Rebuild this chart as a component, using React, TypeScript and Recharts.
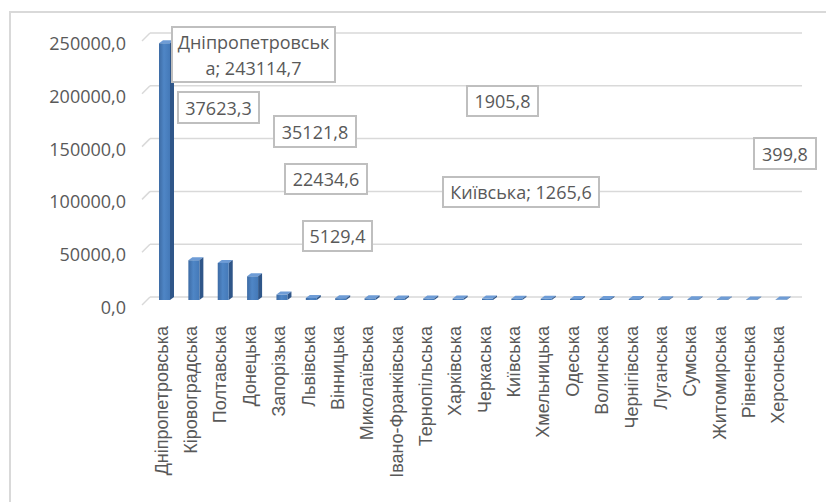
import { BarChart, Bar, XAxis, YAxis, CartesianGrid } from 'recharts'

// Обсяги по областях (тис.)
const categories = [
    'Дніпропетровська', 'Кіровоградська', 'Полтавська', 'Донецька', 'Запорізька',
    'Львівська', 'Вінницька', 'Миколаївська', 'Івано-Франківська', 'Тернопільська',
    'Харківська', 'Черкаська', 'Київська', 'Хмельницька', 'Одеська', 'Волинська',
    'Чернігівська', 'Луганська', 'Сумська', 'Житомирська', 'Рівненська', 'Херсонська',
]
const values = [
    243114.7, 37623.3, 35121.8, 22434.6, 5129.4,
    1905.8, 1700, 1600, 1500, 1420, 1360, 1310, 1265.6,
    1150, 1050, 950, 850, 760, 680, 580, 490, 399.8,
]
const yTicks = [0, 50000, 100000, 150000, 200000, 250000]

// which bars carry a data label, and whether the category name is shown
const labelIndex = [0, 1, 2, 3, 4, 5, 12, 21]
const labelWithName = [true, false, false, false, false, false, true, false]

// label box layout (left, top, width, height)
const labelBoxes = [
    [171, 26, 165, 57],
    [177, 91, 83, 33],
    [273, 115, 84, 33],
    [284, 163, 84, 32],
    [302, 220, 71, 32],
    [466, 85, 73, 32],
    [442, 176, 158, 32],
    [753, 137, 64, 33],
]

const chartData = categories.map((name, i) => ({ name, value: values[i] }))

const fmt = (v: number) => v.toFixed(1).replace('.', ',')

const TEXT = '#595959'
const GRID = '#d9d9d9'

function Bar3D(props: any) {
    const { x, y, width, height } = props
    if (x == null || y == null) return null
    const h = Math.max(height, 0)
    const d = 4
    const dy = 3
    return (
        <g>
            <polygon
                points={`${x},${y} ${x + d},${y - dy} ${x + width + d},${y - dy} ${x + width},${y}`}
                fill="#6e9cd6"
            />
            <polygon
                points={`${x + width},${y} ${x + width + d},${y - dy} ${x + width + d},${y + h - dy} ${x + width},${y + h}`}
                fill="#2f5689"
            />
            <rect x={x} y={y} width={width} height={h} fill="url(#barFront)" />
        </g>
    )
}

function YTick(props: any) {
    const { y, payload } = props
    return (
        <text x={126} y={y + 7} textAnchor="end" dominantBaseline="central"
            fill={TEXT} fontSize={18} fontFamily="'Open Sans', sans-serif">
            {fmt(payload.value)}
        </text>
    )
}

function XTick(props: any) {
    const { x, y, payload } = props
    const tx = x - 3
    const ty = y + 18
    return (
        <text x={tx} y={ty} transform={`rotate(-90, ${tx}, ${ty})`} textAnchor="end"
            dominantBaseline="central" fill={TEXT} fontSize={18}
            fontFamily="'Liberation Sans', Arial, sans-serif">
            {payload.value}
        </text>
    )
}

function GridLine(props: any) {
    const { x1, y1, x2, y2, index } = props
    return (
        <g key={`g-${index}`}>
            <line x1={x1} y1={y1 - 3} x2={x2 + 6} y2={y2 - 3} stroke={GRID} strokeWidth={1.5} />
            <line x1={x1 - 8} y1={y1 + 5} x2={x1} y2={y1 - 3} stroke={GRID} strokeWidth={1.5} />
        </g>
    )
}

export default function App() {
    return (
        <div style={{ position: 'relative', width: 826, height: 502, overflow: 'hidden', background: '#fff' }}>
            <style>{`body{margin:0}`}</style>
            <div style={{
                position: 'absolute', left: 9, top: 11, width: 900, height: 600,
                borderLeft: `2px solid ${GRID}`, borderTop: `2px solid ${GRID}`,
            }} />
            <BarChart width={826} height={502} data={chartData}
                margin={{ top: 36, right: 30, left: 0, bottom: 0 }} barSize={11}>
                <defs>
                    <linearGradient id="barFront" x1="0" y1="0" x2="1" y2="0">
                        <stop offset="0%" stopColor="#3d6ba4" />
                        <stop offset="45%" stopColor="#4f86c6" />
                        <stop offset="100%" stopColor="#4479b8" />
                    </linearGradient>
                </defs>
                <CartesianGrid vertical={false} horizontal={(p: any) => <GridLine {...p} />} />
                <XAxis dataKey="name" interval={0} height={202} axisLine={false} tickLine={false}
                    tick={<XTick />} />
                <YAxis domain={[0, 250000]} ticks={yTicks} width={150} axisLine={false}
                    tickLine={false} tick={<YTick />} />
                <Bar dataKey="value" shape={<Bar3D />} isAnimationActive={false} />
            </BarChart>
            {labelIndex.map((idx, i) => {
                const [left, top, w, h] = labelBoxes[i]
                const text = labelWithName[i] ? `${categories[idx]}; ${fmt(values[idx])}` : fmt(values[idx])
                return (
                    <div key={i} style={{
                        position: 'absolute', left, top, width: w, height: h, boxSizing: 'border-box',
                        border: '2px solid #bfbfbf', background: '#fff', color: TEXT,
                        fontFamily: "'Open Sans', sans-serif", fontSize: 18, lineHeight: '26px',
                        display: 'flex', alignItems: 'center', justifyContent: 'center',
                        textAlign: 'center', wordBreak: 'break-all', padding: '0 4px',
                    }}>
                        {text}
                    </div>
                )
            })}
        </div>
    )
}
